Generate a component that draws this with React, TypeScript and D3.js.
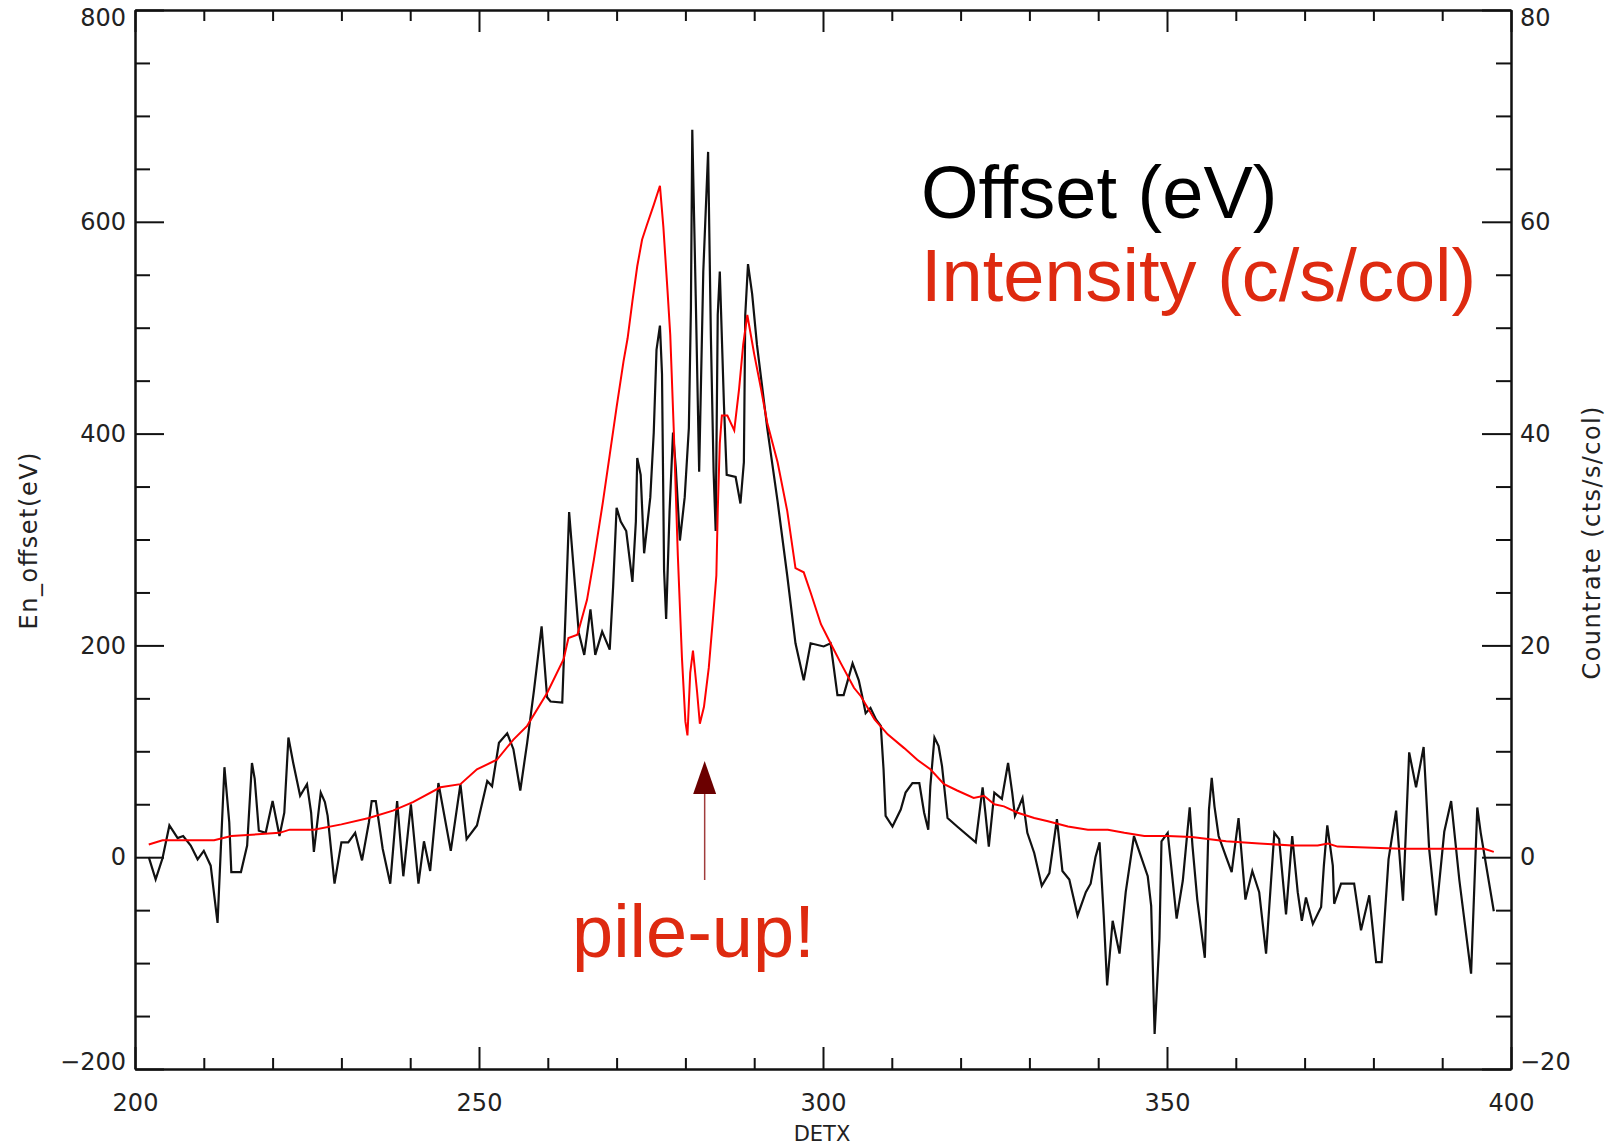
import { useEffect, useRef } from 'react';
import * as d3 from 'd3';

const W = 1611, H = 1145;
const M = { left: 135, right: 1511, top: 10, bottom: 1069 };

// black curve: energy offset (eV) vs DETX
const offsetDetx = [202,203,204,205,206.2,207,208.1,209.1,210,211,212,213,213.7,214,215.4,216.3,217,217.4,218,219,220,221,221.7,222.3,223,224,225,225.6,226,227,227.6,228,229,230,231,232,233,234,234.4,235,236,237.1,238.1,239,240.1,241.2,242,242.9,244.1,245.9,247.3,248.2,249.7,251.2,251.9,252.9,254.1,255,256,257,258,259.1,259.9,260.4,262.1,262.6,263.1,264.5,265.3,266.2,266.9,267.9,269,269.5,270,270.6,271.4,272.3,272.8,273,273.5,274,274.9,275.4,275.8,276.3,276.6,276.9,277.2,277.7,278.2,278.6,279.2,279.9,280.5,280.8,281,281.5,282,282.6,283.3,283.7,284.1,284.4,284.7,285,285.6,286,287.3,288,288.5,288.7,289.1,289.7,290.4,291.9,293.4,294.8,296,297.2,298.2,300.1,301.1,302.1,303,304.3,305.2,305.7,306.2,306.9,307.7,308.4,308.8,309.1,310.1,311.3,312,313,314,314.7,315.3,315.6,316.2,316.8,317.3,318.1,319.5,322.2,323.2,323.6,324.1,324.9,326,326.9,327.5,327.9,328.5,329,329.7,330.7,331.8,332.9,334,334.8,335.8,337,338.2,338.9,339.6,340.2,340.8,341.3,342.1,343.1,344,345.2,347.2,347.7,348.2,348.9,349.2,350.1,350.6,351.4,352.3,353.3,353.7,354.4,355.5,356.1,356.5,356.9,357.5,358.6,359.4,360.4,361.4,362.4,363.4,364.4,365.6,366.3,367.3,368.2,369,369.6,370.2,371.2,372.4,372.8,373.3,374.1,374.3,375.3,377.2,378.2,379.4,380.4,381.2,382.2,383.3,384.3,385.2,386.2,387.3,388.1,389.1,390.3,391.3,392.5,394.2,395.1,395.6,397.5];
const offsetEv = [0,-21,-1,30,18,20,11,-2,6,-8,-62,85,33,-14,-14,11,89,74,25,23,53,20,42,113,89,58,69,42,5,61,52,39,-25,14,14,23,-3,33,53,53,8,-25,53,-18,50,-25,15,-13,70,6,69,17,30,72,67,108,117,102,63,108,158,218,151,147,146,234,326,212,191,234,191,213,196,256,330,317,308,260,317,377,361,287,340,401,479,502,456,271,225,327,401,368,299,340,405,518,687,530,364,553,666,493,364,308,512,553,428,361,359,334,373,512,560,532,484,405,336,266,202,167,202,199,202,153,153,183,167,152,136,141,130,124,83,39,29,45,61,70,70,42,26,67,113,105,86,37,29,14,66,42,10,61,55,89,61,39,48,56,23,4,-27,-15,36,-13,-21,-55,-33,-25,0,14,-55,-121,-60,-91,-33,20,-18,-46,-167,-77,15,23,-8,-58,-22,47,11,-40,-95,45,75,48,20,0,-14,37,-40,-13,-33,-91,23,17,-54,20,-33,-60,-38,-63,-47,-8,30,-8,-44,-25,-25,-69,-36,-99,-99,-2,44,-41,99,66,104,8,-55,24,53,-22,-110,47,23,-51];

// red curve: countrate (cts/s/col) vs DETX
const intensityDetx = [202,204,211.5,214,221,222.5,226,230,234,237.5,240.4,244.4,247.3,249.7,252.6,255,257,259.9,262.3,263,264.3,265.7,266.7,268,269,270,271,271.6,272.3,273,273.7,274.4,275.4,276.3,276.8,277.4,277.8,278.3,278.9,279.5,280,280.3,280.7,281.1,281.7,282.1,282.7,283.4,284,284.5,284.7,285,285.3,286.1,287.1,287.8,288.4,289,290,291,291.9,293.4,294.8,296,297.2,298.2,299.7,301.1,302.6,304.5,305.5,307.5,309.4,311.8,313.7,315.6,317.6,319.5,321.9,323.4,324.9,326.3,328.3,330.7,332.7,335.6,338.5,341.4,343.8,346.7,350.1,353.6,358.6,363.4,368.2,371.9,373.4,374.8,384.1,396.1,397.5];
const intensityCps = [1.2,1.6,1.6,2.0,2.3,2.6,2.6,3.1,3.7,4.4,5.2,6.6,6.9,8.3,9.2,11.1,12.4,15.5,18.7,20.7,21.0,24.3,28.1,33.5,38.0,42.5,46.8,49.0,52.5,55.8,58.3,59.7,61.6,63.4,59.5,53.5,49.3,40.5,28.5,18.8,12.8,11.5,17.4,19.5,15.6,12.6,14.2,17.9,22.5,26.6,32.7,39.1,41.7,41.7,40.3,44.2,48.4,51.2,47.5,44.2,41.0,37.3,32.7,27.3,26.9,25.0,22.0,20.2,18.3,16.0,15.2,13.0,11.6,10.3,9.2,8.3,6.9,6.3,5.6,5.8,5.0,4.8,4.2,3.7,3.4,2.9,2.6,2.6,2.3,2.0,2.0,1.9,1.5,1.3,1.1,1.1,1.3,1.0,0.8,0.8,0.5];

const xMajor = [200, 250, 300, 350, 400];
const xMinor = d3.range(210, 400, 10).filter(v => v % 50 !== 0);
const leftMajor = [-200, 0, 200, 400, 600, 800];
const leftMinor = d3.range(-150, 800, 50).filter(v => v % 200 !== 0);
const rightMajor = [-20, 0, 20, 40, 60, 80];
const rightMinor = d3.range(-15, 80, 5).filter(v => v % 20 !== 0);
const PILEUP_DETX = 282.8;

const TICK_FONT = '"DejaVu Sans", sans-serif';
const BIG_FONT = '"Liberation Sans", Arial, sans-serif';
const RED_TEXT = '#de2a10';

export default function App() {
  const ref = useRef<SVGSVGElement>(null);
  useEffect(() => {
    const svg = d3.select(ref.current); svg.selectAll('*').remove();
    const x = d3.scaleLinear().domain([200, 400]).range([M.left, M.right]);
    const yL = d3.scaleLinear().domain([-200, 800]).range([M.bottom, M.top]);
    const yR = d3.scaleLinear().domain([-20, 80]).range([M.bottom, M.top]);
    const none = () => '';
    const fmt = (d: d3.NumberValue) => d3.format('d')(+d).replace('-', '\u2212');

    // axes (ticks point inward, like IDL)
    const axes = svg.append('g').attr('color', '#111');
    axes.append('g').attr('transform', `translate(0,${M.bottom})`)
      .call(d3.axisBottom(x).tickValues(xMajor).tickSize(-22).tickSizeOuter(0).tickPadding(25).tickFormat(fmt));
    axes.append('g').attr('transform', `translate(0,${M.bottom})`)
      .call(d3.axisBottom(x).tickValues(xMinor).tickSize(-11).tickSizeOuter(0).tickFormat(none));
    axes.append('g').attr('transform', `translate(0,${M.top})`)
      .call(d3.axisTop(x).tickValues(xMajor).tickSize(-22).tickSizeOuter(0).tickFormat(none));
    axes.append('g').attr('transform', `translate(0,${M.top})`)
      .call(d3.axisTop(x).tickValues(xMinor).tickSize(-11).tickSizeOuter(0).tickFormat(none));
    const gl = axes.append('g').attr('transform', `translate(${M.left},0)`)
      .call(d3.axisLeft(yL).tickValues(leftMajor).tickSize(-29).tickSizeOuter(0).tickPadding(9).tickFormat(fmt));
    axes.append('g').attr('transform', `translate(${M.left},0)`)
      .call(d3.axisLeft(yL).tickValues(leftMinor).tickSize(-15).tickSizeOuter(0).tickFormat(none));
    const gr = axes.append('g').attr('transform', `translate(${M.right},0)`)
      .call(d3.axisRight(yR).tickValues(rightMajor).tickSize(-29).tickSizeOuter(0).tickPadding(9).tickFormat(fmt));
    axes.append('g').attr('transform', `translate(${M.right},0)`)
      .call(d3.axisRight(yR).tickValues(rightMinor).tickSize(-15).tickSizeOuter(0).tickFormat(none));
    axes.selectAll('.domain').attr('stroke-width', 2);
    axes.selectAll('.tick line').attr('stroke-width', 2);
    axes.selectAll('.tick text').attr('font-family', TICK_FONT).attr('font-size', 24).attr('fill', '#222');
    // end labels sit a bit inside the frame
    gl.selectAll<SVGTextElement, number>('.tick text').attr('y', d => d === 800 ? 8 : d === -200 ? -7 : 0);
    gr.selectAll<SVGTextElement, number>('.tick text').attr('y', d => d === 80 ? 8 : d === -20 ? -7 : 0);

    // data
    const offsetLine = d3.line<number>().x((_, i) => x(offsetDetx[i])).y(d => yL(d));
    const rateLine = d3.line<number>().x((_, i) => x(intensityDetx[i])).y(d => yR(d));
    svg.append('path').attr('d', offsetLine(offsetEv)).attr('fill', 'none')
      .attr('stroke', '#111').attr('stroke-width', 2.2).attr('stroke-linejoin', 'miter');
    svg.append('path').attr('d', rateLine(intensityCps)).attr('fill', 'none')
      .attr('stroke', '#ff0000').attr('stroke-width', 2);

    // axis titles
    svg.append('text').attr('x', (M.left + M.right) / 2 - 1).attr('y', 1141).attr('text-anchor', 'middle')
      .attr('font-family', TICK_FONT).attr('font-size', 21).attr('fill', '#222').text('DETX');
    svg.append('text').attr('transform', 'translate(37,541) rotate(-90)').attr('text-anchor', 'middle')
      .attr('font-family', TICK_FONT).attr('font-size', 24).attr('fill', '#222')
      .attr('textLength', 177).attr('lengthAdjust', 'spacing').text('En_offset(eV)');
    svg.append('text').attr('transform', 'translate(1600,543) rotate(-90)').attr('text-anchor', 'middle')
      .attr('font-family', TICK_FONT).attr('font-size', 24).attr('fill', '#222')
      .attr('textLength', 273).attr('lengthAdjust', 'spacing').text('Countrate  (cts/s/col)');

    // legend
    svg.append('text').attr('x', 921).attr('y', 218).attr('font-family', BIG_FONT).attr('font-size', 74)
      .attr('fill', '#000').text('Offset (eV)');
    svg.append('text').attr('x', 921).attr('y', 301).attr('font-family', BIG_FONT).attr('font-size', 74)
      .attr('fill', RED_TEXT).text('Intensity (c/s/col)');

    // pile-up annotation
    const ax = x(PILEUP_DETX);
    svg.append('line').attr('x1', ax).attr('x2', ax).attr('y1', 794).attr('y2', 880)
      .attr('stroke', '#a03c3c').attr('stroke-width', 1.5);
    svg.append('path').attr('d', `M${ax},761 L${ax - 11.5},794 L${ax + 11.5},794 Z`).attr('fill', '#6b0000');
    svg.append('text').attr('x', 572).attr('y', 957).attr('font-family', BIG_FONT).attr('font-size', 74)
      .attr('fill', RED_TEXT).text('pile-up!');
  }, []);
  return <svg ref={ref} width={W} height={H} style={{ position: 'absolute', left: 0, top: 0, background: '#fff' }} />;
}
